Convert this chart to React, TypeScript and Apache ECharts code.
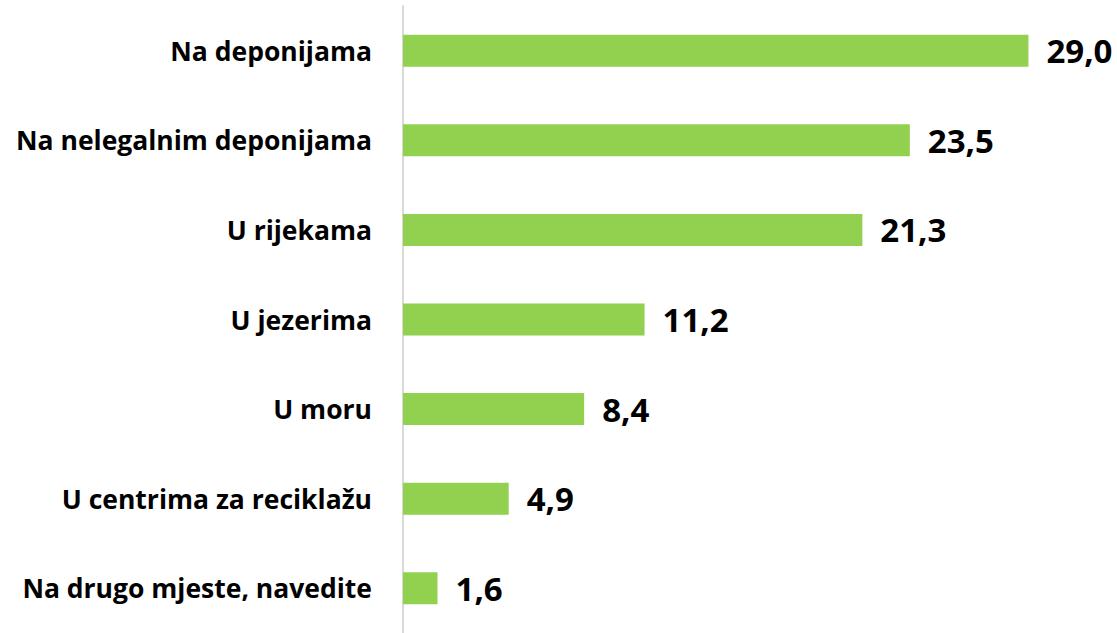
import React, { useEffect, useRef } from "react";
import * as echarts from "echarts";

const categories = [
  "Na deponijama",
  "Na nelegalnim deponijama",
  "U rijekama",
  "U jezerima",
  "U moru",
  "U centrima za reciklažu",
  "Na drugo mjeste, navedite",
];
const values = [29.0, 23.5, 21.3, 11.2, 8.4, 4.9, 1.6];

const FONT = "'Open Sans', 'Noto Sans', sans-serif";

export default function App() {
  const ref = useRef<HTMLDivElement>(null);
  useEffect(() => {
    document.body.style.margin = "0";
    if (!ref.current) return;
    const chart = echarts.init(ref.current, null, { renderer: "svg" });
    chart.setOption({
      animation: false,
      backgroundColor: "#ffffff",
      grid: { left: 403, top: 6, width: 647, height: 630, containLabel: false },
      xAxis: {
        type: "value",
        min: 0,
        max: 30,
        show: false,
      },
      yAxis: {
        type: "category",
        data: categories,
        inverse: true,
        axisLine: { show: true, lineStyle: { color: "#D9D9D9", width: 2 } },
        axisTick: { show: false },
        axisLabel: {
          margin: 31,
          color: "#000000",
          fontFamily: FONT,
          fontWeight: "bold",
          fontSize: 26.5,
        },
        splitLine: { show: false },
      },
      series: [
        {
          type: "bar",
          data: values,
          barWidth: 32,
          itemStyle: { color: "#92D050" },
          label: {
            show: true,
            position: "right",
            distance: 18,
            color: "#000000",
            fontFamily: FONT,
            fontWeight: "bold",
            fontSize: 33,
            formatter: (p: any) => p.value.toFixed(1).replace(".", ","),
          },
        },
      ],
    });
    return () => chart.dispose();
  }, []);
  return (
    <div
      ref={ref}
      style={{ position: "absolute", left: 0, top: 0, width: 1117, height: 633 }}
    />
  );
}
